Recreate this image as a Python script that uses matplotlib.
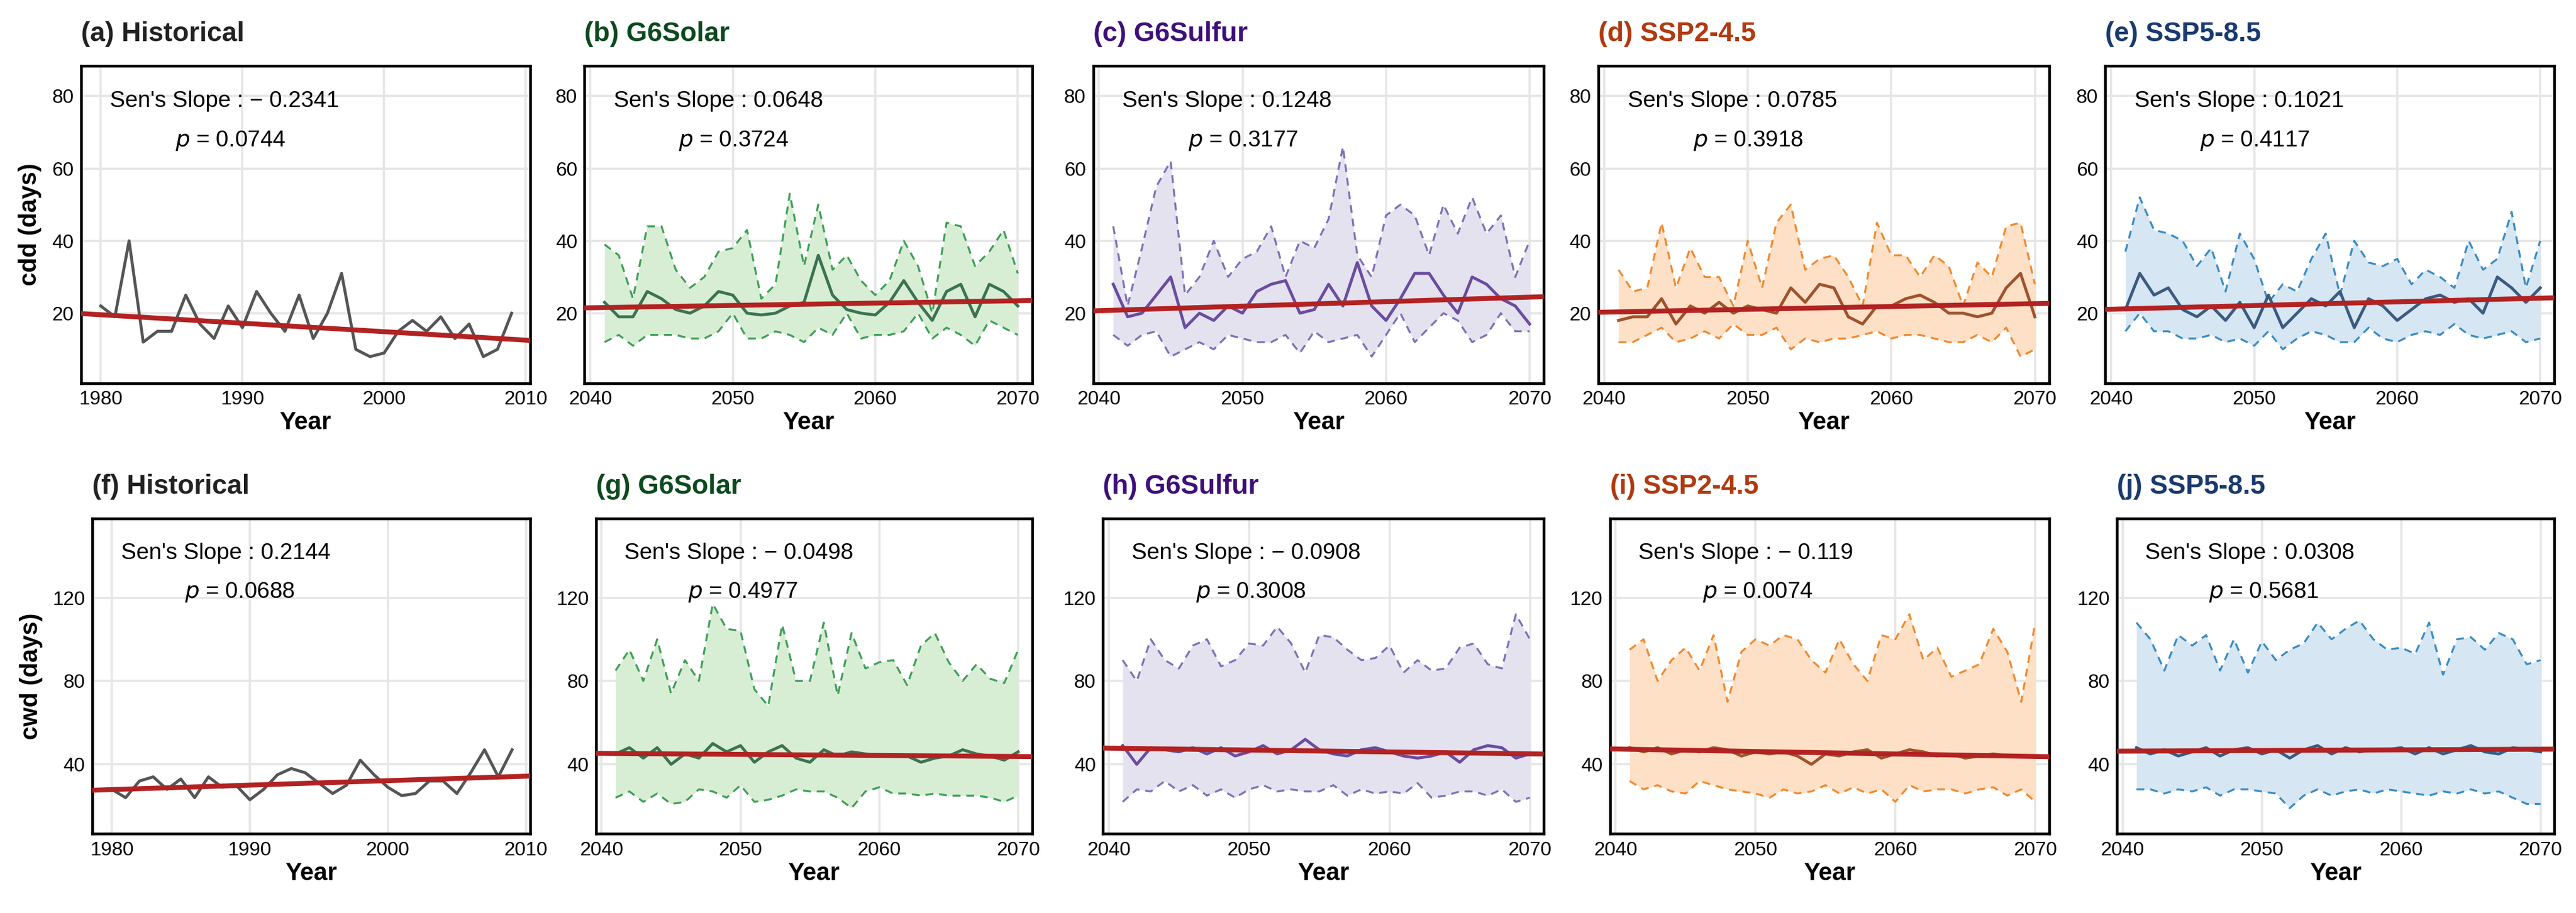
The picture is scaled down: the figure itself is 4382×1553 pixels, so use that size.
import numpy as np
import matplotlib.pyplot as plt

plt.rcParams['font.family'] = ['Liberation Sans', 'DejaVu Sans']

# Years
years_hist = np.arange(1980, 2010)
years_fut = np.arange(2041, 2071)

# cdd data
cdd_hist = [22, 19, 40, 12, 15, 15, 25, 17, 13, 22, 16, 26, 20, 15, 25, 13, 20, 31, 10, 8,
            9, 15, 18, 15, 19, 13, 17, 8, 10, 20]
cdd_solar = [23, 19, 19, 26, 24, 21, 20, 22, 26, 25, 20, 19.5, 20, 22, 23, 36, 25, 21, 20, 19.5,
             23, 29, 23, 18, 26, 28, 19, 28, 26, 22]
cdd_solar_hi = [39, 36, 24, 44, 44, 32, 27, 30, 37, 38, 43, 24, 28, 53, 33, 50, 32, 36, 29, 25,
                29, 40, 33, 20, 45, 44, 33, 37, 43, 31]
cdd_solar_lo = [12, 14, 11, 14, 14, 14, 13, 13, 15, 20, 13, 13, 15, 14, 12, 16, 14, 20, 13, 14,
                14, 15, 20, 13, 16, 14, 11, 18, 16, 14]
cdd_sulfur = [28, 19, 20, 25, 30, 16, 20, 18, 22, 20, 26, 28, 29, 20, 21, 28, 22, 34, 22, 18,
              24, 31, 31, 25, 20, 30, 28, 24, 22, 17]
cdd_sulfur_hi = [44, 22, 38, 55, 62, 25, 30, 40, 30, 35, 37, 44, 30, 40, 38, 46, 66, 36, 30, 47,
                 50, 47, 36, 50, 42, 52, 42, 47, 30, 40]
cdd_sulfur_lo = [14, 11, 14, 15, 8, 10, 12, 10, 14, 13, 12, 12, 14, 9, 15, 12, 13, 14, 8, 14,
                 20, 12, 16, 20, 18, 12, 14, 20, 15, 15]
cdd_ssp245 = [18, 19, 19, 24, 17, 22, 20, 23, 20, 22, 21, 20, 27, 23, 28, 27, 19, 17, 22, 22,
              24, 25, 23, 20, 20, 19, 20, 27, 31, 19]
cdd_ssp245_hi = [32, 26, 27, 45, 27, 38, 30, 30, 22, 40, 27, 45, 50, 32, 35, 36, 30, 22, 45, 36,
                 36, 30, 36, 33, 22, 34, 30, 44, 45, 28]
cdd_ssp245_lo = [12, 12, 14, 16, 12, 13, 15, 13, 17, 14, 14, 16, 10, 13, 12, 13, 13, 14, 15, 13,
                 14, 14, 13, 12, 12, 14, 12, 16, 8, 10]
cdd_ssp585 = [21, 31, 25, 27, 21, 19, 22, 18, 23, 16, 25, 16, 20, 24, 22, 26, 16, 24, 22, 18,
              21, 24, 25, 23, 24, 20, 30, 27, 23, 27]
cdd_ssp585_hi = [37, 52, 43, 42, 40, 33, 38, 26, 42, 35, 23, 28, 26, 35, 42, 25, 40, 34, 33, 35,
                 28, 32, 30, 27, 40, 32, 35, 48, 27, 40]
cdd_ssp585_lo = [15, 20, 15, 15, 13, 13, 14, 12, 13, 11, 15, 10, 13, 15, 14, 12, 12, 16, 13, 12,
                 14, 15, 14, 17, 14, 13, 14, 15, 12, 13]

# cwd data
cwd_hist = [28, 24, 32, 34, 28, 33, 24, 34, 29, 30, 23, 28, 35, 38, 36, 31, 26, 30, 42, 35,
            29, 25, 26, 32, 32, 26, 36, 47, 34, 47]
cwd_solar = [45, 48, 43, 48, 40, 45, 43, 50, 46, 49, 41, 46, 49, 43, 41, 47, 44, 46, 45, 44,
             44, 44, 41, 43, 44, 47, 45, 44, 42, 46]
cwd_solar_hi = [85, 95, 80, 100, 74, 90, 80, 117, 105, 104, 76, 68, 107, 80, 80, 108, 73, 103, 86, 89,
                90, 78, 97, 103, 89, 80, 88, 81, 79, 95]
cwd_solar_lo = [24, 27, 22, 26, 21, 22, 28, 27, 24, 30, 22, 23, 25, 28, 27, 27, 24, 19, 27, 29,
                26, 26, 25, 26, 25, 25, 25, 24, 22, 25]
cwd_sulfur = [49, 40, 48, 47, 46, 48, 45, 48, 44, 46, 49, 45, 47, 52, 47, 45, 44, 47, 48, 46,
              44, 43, 44, 46, 41, 47, 49, 48, 43, 45]
cwd_sulfur_hi = [90, 80, 100, 90, 86, 97, 100, 87, 90, 98, 97, 106, 98, 84, 102, 101, 95, 90, 91, 97,
                 84, 90, 85, 86, 96, 98, 88, 86, 112, 100]
cwd_sulfur_lo = [22, 28, 27, 32, 27, 30, 25, 28, 24, 28, 30, 27, 28, 27, 27, 30, 25, 28, 26, 27,
                 26, 31, 24, 25, 27, 27, 25, 28, 22, 24]
cwd_ssp245 = [48, 46, 48, 45, 47, 46, 48, 47, 44, 46, 45, 46, 44, 40, 45, 44, 46, 47, 43, 45,
              47, 46, 44, 45, 43, 44, 45, 44, 44, 44]
cwd_ssp245_hi = [95, 100, 80, 90, 96, 85, 102, 70, 94, 100, 97, 102, 100, 90, 84, 100, 88, 80, 102, 100,
                 112, 90, 96, 82, 85, 88, 105, 94, 70, 108]
cwd_ssp245_lo = [32, 28, 30, 27, 26, 32, 30, 28, 27, 26, 24, 28, 26, 27, 30, 26, 29, 26, 28, 22,
                 30, 27, 28, 28, 26, 28, 29, 25, 28, 22]
cwd_ssp585 = [48, 45, 47, 44, 46, 48, 44, 47, 48, 45, 47, 43, 47, 49, 45, 48, 46, 47, 47, 48,
              45, 48, 45, 47, 49, 46, 45, 48, 47, 46]
cwd_ssp585_hi = [108, 100, 85, 102, 97, 102, 85, 100, 84, 99, 90, 95, 98, 108, 100, 105, 109, 100, 95, 96,
                 93, 108, 83, 100, 101, 95, 103, 100, 88, 90]
cwd_ssp585_lo = [28, 28, 26, 28, 27, 29, 25, 28, 28, 27, 26, 19, 25, 28, 25, 27, 28, 26, 28, 27,
                 26, 25, 27, 26, 28, 26, 27, 24, 21, 21]

# Panel labels and statistics
scenarios = ["Historical", "G6Solar", "G6Sulfur", "SSP2-4.5", "SSP5-8.5"]
letters_top = ["a", "b", "c", "d", "e"]
letters_bot = ["f", "g", "h", "i", "j"]
cdd_slopes = [-0.2341, 0.0648, 0.1248, 0.0785, 0.1021]
cdd_pvals = ["0.0744", "0.3724", "0.3177", "0.3918", "0.4117"]
cwd_slopes = [0.2144, -0.0498, -0.0908, -0.119, 0.0308]
cwd_pvals = ["0.0688", "0.4977", "0.3008", "0.0074", "0.5681"]

# Styles
title_colors = ["#222222", "#0b4a1e", "#3f0f7a", "#b03a10", "#1a3a6e"]
line_colors = ["#555555", "#3b7352", "#6a4ca0", "#a0522d", "#3c5a80"]
fill_colors = [None, "#d8eed4", "#e4e2ef", "#fde0c6", "#d6e6f2"]
dash_colors = [None, "#3f9f58", "#8070b5", "#f08a30", "#3a8cc4"]
trend_color = "#b22222"

W, H = 1560.0, 553.0
top_x = [(49, 321), (354, 625), (662, 935), (968, 1241), (1275, 1547)]
bot_x = [(56, 321), (361, 625), (668, 935), (975, 1241), (1282, 1547)]


def fmt_slope(s):
    return f"\u2212 {abs(s)}" if s < 0 else f"{s}"


def draw_panel(fig, xr, yr, years, mean, hi, lo, k, letter, slope, pval, ylim, yticks, ylabel):
    ax = fig.add_axes([xr[0] / W, 1 - yr[1] / H, (xr[1] - xr[0]) / W, (yr[1] - yr[0]) / H])
    if hi is not None:
        ax.fill_between(years, lo, hi, color=fill_colors[k], lw=0, zorder=1)
        ax.plot(years, hi, ls=(0, (4, 3)), color=dash_colors[k], lw=0.8, zorder=2)
        ax.plot(years, lo, ls=(0, (4, 3)), color=dash_colors[k], lw=0.8, zorder=2)
    ax.plot(years, mean, color=line_colors[k], lw=1.2, zorder=3)
    # Sen's slope trend line
    y = np.array(mean, dtype=float)
    x = np.array(years, dtype=float)
    b = np.median(y - slope * x)
    xx = np.array([x[0] - 3, x[-1] + 3])
    ax.plot(xx, b + slope * xx, color=trend_color, lw=2.0, zorder=4)

    if k == 0:
        ax.set_xlim(1978.6, 2010.3)
        ax.set_xticks([1980, 1990, 2000, 2010])
    else:
        ax.set_xlim(2039.6, 2071.0)
        ax.set_xticks([2040, 2050, 2060, 2070])
    ax.set_ylim(*ylim)
    ax.set_yticks(yticks)
    ax.grid(True, color="#e6e6e6", lw=0.9)
    ax.set_axisbelow(True)
    for sp in ax.spines.values():
        sp.set_linewidth(1.1)
    ax.tick_params(length=0, labelsize=8, pad=3)
    ax.set_xlabel("Year", fontsize=10, fontweight="bold", labelpad=1)
    if ylabel:
        ax.set_ylabel(ylabel, fontsize=10, fontweight="bold", labelpad=4)
    ax.text(0.0, 1.06, f"({letter}) {scenarios[k]}", transform=ax.transAxes, fontsize=11,
            fontweight="bold", color=title_colors[k], ha="left", va="bottom")
    ax.text(0.065, 0.89, f"Sen's Slope : {fmt_slope(slope)}", transform=ax.transAxes,
            fontsize=9.3, ha="left", va="center")
    ax.text(0.21, 0.765, f"$p$ = {pval}", transform=ax.transAxes, fontsize=9.3,
            ha="left", va="center")
    return ax


fig = plt.figure(figsize=(4382 / 300, 1553 / 300), dpi=300)

top_data = [(cdd_hist, None, None), (cdd_solar, cdd_solar_hi, cdd_solar_lo),
            (cdd_sulfur, cdd_sulfur_hi, cdd_sulfur_lo), (cdd_ssp245, cdd_ssp245_hi, cdd_ssp245_lo),
            (cdd_ssp585, cdd_ssp585_hi, cdd_ssp585_lo)]
bot_data = [(cwd_hist, None, None), (cwd_solar, cwd_solar_hi, cwd_solar_lo),
            (cwd_sulfur, cwd_sulfur_hi, cwd_sulfur_lo), (cwd_ssp245, cwd_ssp245_hi, cwd_ssp245_lo),
            (cwd_ssp585, cwd_ssp585_hi, cwd_ssp585_lo)]

for k in range(5):
    years = years_hist if k == 0 else years_fut
    m, hi, lo = top_data[k]
    draw_panel(fig, top_x[k], (40, 232), years, m, hi, lo, k, letters_top[k], cdd_slopes[k],
               cdd_pvals[k], (0.7, 88.3), [20, 40, 60, 80], "cdd (days)" if k == 0 else None)
    m, hi, lo = bot_data[k]
    draw_panel(fig, bot_x[k], (314, 505), years, m, hi, lo, k, letters_bot[k], cwd_slopes[k],
               cwd_pvals[k], (6.7, 158), [40, 80, 120], "cwd (days)" if k == 0 else None)

fig.savefig("out.png", dpi=300)
